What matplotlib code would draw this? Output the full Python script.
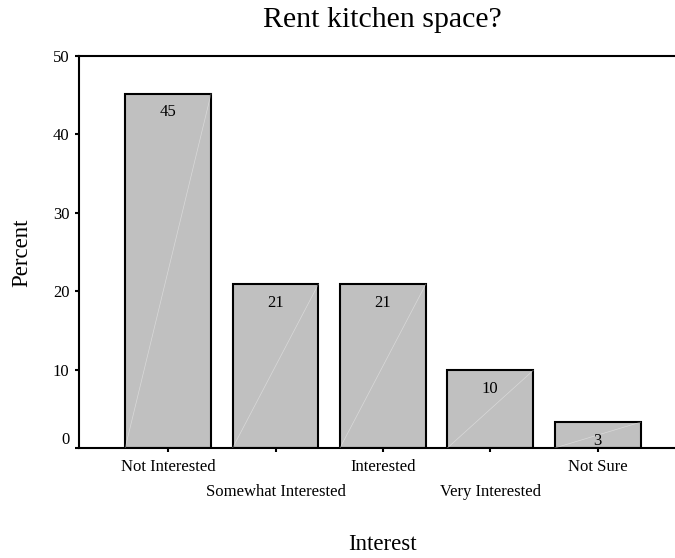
import matplotlib.pyplot as plt
import matplotlib.transforms as mtransforms

plt.rcParams['font.family'] = ['Liberation Serif', 'DejaVu Serif']

categories = ['Not Interested', 'Somewhat Interested', 'Interested', 'Very Interested', 'Not Sure']
percent = [45.2, 20.9, 20.9, 9.9, 3.3]
bar_labels = ['45', '21', '21', '10', '3']

fig = plt.figure(figsize=(6.75, 5.58), dpi=100)
ax = fig.add_axes([79 / 675, 1 - 448 / 558, 1 - 79 / 675, (448 - 56) / 558])

x = list(range(len(categories)))
bars = ax.bar(x, percent, width=0.8, color='#c0c0c0', edgecolor='black', linewidth=1.5, zorder=2)

# faint diagonal streak seen in the original bars
for b in bars:
    ax.plot([b.get_x(), b.get_x() + b.get_width()], [0, b.get_height()],
            color='white', linewidth=0.5, alpha=0.4, zorder=3)

for b, lab in zip(bars, bar_labels):
    ax.text(b.get_x() + b.get_width() / 2, b.get_height() - 2.4, lab,
            ha='center', va='center', fontsize=12, zorder=4)

ax.set_xlim(-0.83, 4.72)
ax.set_ylim(0, 50)
ax.set_yticks([0, 10, 20, 30, 40, 50])

# staggered category labels: even ones on the first row, odd ones below
even = [i for i in x if i % 2 == 0]
odd = [i for i in x if i % 2 == 1]
ax.set_xticks(even, [categories[i] for i in even])
ax.set_xticks(odd, [categories[i] for i in odd], minor=True)
ax.tick_params(axis='both', which='both', direction='out', length=3, width=1.5, labelsize=12)
ax.tick_params(axis='y', pad=4)
ax.tick_params(axis='x', which='major', pad=5)
ax.tick_params(axis='x', which='minor', pad=23)

# the "0" label sits a little above its tick in the original
fig.canvas.draw()
zero = ax.get_yticklabels()[0]
zero.set_transform(zero.get_transform() + mtransforms.ScaledTranslation(0, 10 / 100, fig.dpi_scale_trans))

for s in ['left', 'bottom', 'top']:
    ax.spines[s].set_linewidth(1.5)
ax.spines['right'].set_visible(False)

fig.text(22 / 675, 1 - 253 / 558, 'Percent', rotation=90, ha='center', va='center', fontsize=16.5)
fig.text(382 / 675, 1 - 545 / 558, 'Interest', ha='center', va='center', fontsize=16.5)
fig.text(382 / 675, 1 - 20 / 558, 'Rent kitchen space?', ha='center', va='center', fontsize=21.5)

fig.savefig('out.png', dpi=100)
